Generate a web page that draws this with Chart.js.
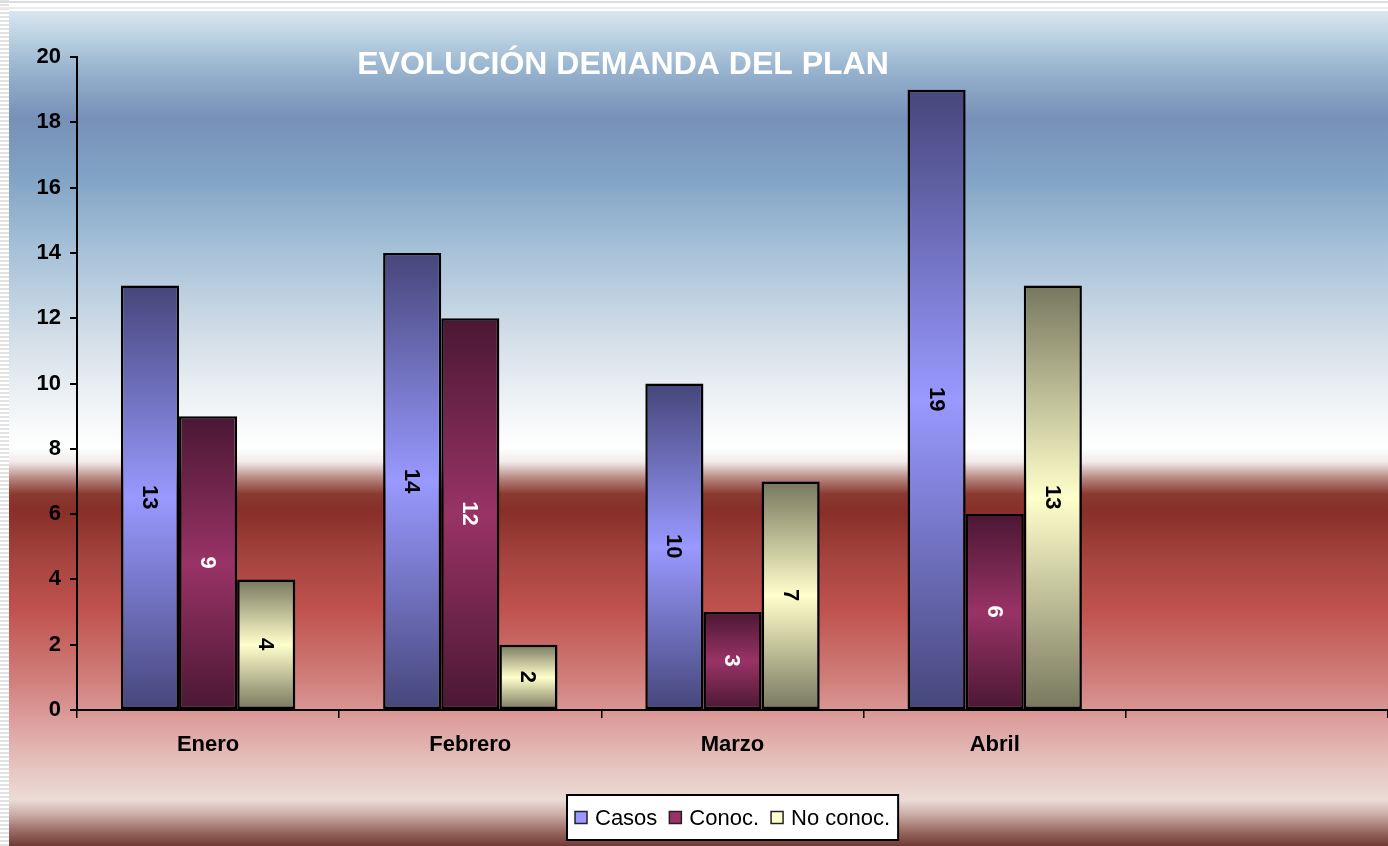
<!DOCTYPE html>
<html lang="es">
  <head>
    <meta charset="UTF-8" />
    <title>Evolución demanda del plan</title>
    <script src="https://cdn.jsdelivr.net/npm/chart.js"></script>
    <style>
      body {
        margin: 0;
        background-color: #ffffff;
        overflow: hidden;
      }
      #planChart {
        display: block;
      }
    </style>
  </head>
  <body>
    <canvas id="planChart" width="1388" height="846"></canvas>
    <script>
      // Datos
      const meses = ["Enero", "Febrero", "Marzo", "Abril", ""];
      const casos = [13, 14, 10, 19, null];
      const conoc = [9, 12, 3, 6, null];
      const noConoc = [4, 2, 7, 13, null];
      const yTicks = [0, 2, 4, 6, 8, 10, 12, 14, 16, 18, 20];

      const FONT = "'Liberation Sans', Arial, sans-serif";

      // degradado oscuro - claro - oscuro dentro de cada barra
      function barGradient(context, dark, light) {
        const chart = context.chart;
        const v = context.raw;
        if (!chart.chartArea || v == null || !chart.scales.y) return light;
        const top = chart.scales.y.getPixelForValue(v);
        const bottom = chart.scales.y.getPixelForValue(0);
        if (!isFinite(top) || !isFinite(bottom) || top === bottom) return light;
        const g = chart.ctx.createLinearGradient(0, top, 0, bottom);
        g.addColorStop(0, dark);
        g.addColorStop(0.5, light);
        g.addColorStop(1, dark);
        return g;
      }

      const series = [
        { label: "Casos", data: casos, dark: "#45467a", light: "#9999ff", swatch: "#9999ff", text: "#000000" },
        { label: "Conoc.", data: conoc, dark: "#4a1733", light: "#993366", swatch: "#993366", text: "#ffffff" },
        { label: "No conoc.", data: noConoc, dark: "#77775e", light: "#ffffcc", swatch: "#ffffcc", text: "#000000" },
      ];

      const backgroundPlugin = {
        id: "fondo",
        beforeDraw(chart) {
          const ctx = chart.ctx;
          const w = chart.width;
          const h = chart.height;
          ctx.save();
          ctx.fillStyle = "#ffffff";
          ctx.fillRect(0, 0, w, h);
          // rayas del borde
          ctx.fillStyle = "#e2e2e2";
          for (let y = 0; y < h; y += 4) ctx.fillRect(0, y, 9, 2);
          ctx.fillStyle = "#dcdcdc";
          ctx.fillRect(0, 1, w, 2);
          ctx.fillStyle = "#ececec";
          ctx.fillRect(0, 7, w, 2);
          // degradado del fondo
          const top = 11;
          const g = ctx.createLinearGradient(0, top, 0, h);
          const stops = [
            [11, "#dae6f0"], [40, "#b8cfe0"], [70, "#97b3ce"], [118, "#7890b8"],
            [175, "#80a3c4"], [250, "#a6c1d8"], [330, "#cfdce7"], [400, "#eef2f5"],
            [448, "#ffffff"], [462, "#f2eaea"], [478, "#b88882"], [494, "#8a3a31"],
            [510, "#872f28"], [560, "#a6443f"], [610, "#c0524e"], [680, "#d07f7b"],
            [720, "#dc9e9c"], [770, "#e7c6c2"], [800, "#ecdcd6"], [815, "#c9aba5"],
            [830, "#9d6f67"], [846, "#6e3b33"],
          ];
          stops.forEach(([y, c]) => g.addColorStop((y - top) / (h - top), c));
          ctx.fillStyle = g;
          ctx.fillRect(9, top, w - 9, h - top);
          ctx.restore();
        },
      };

      const labelPlugin = {
        id: "etiquetas",
        afterDatasetsDraw(chart) {
          const ctx = chart.ctx;
          ctx.save();
          ctx.font = "bold 22px " + FONT;
          ctx.textAlign = "center";
          ctx.textBaseline = "middle";
          chart.data.datasets.forEach((ds, i) => {
            const meta = chart.getDatasetMeta(i);
            meta.data.forEach((bar, j) => {
              const v = ds.data[j];
              if (v == null) return;
              ctx.save();
              ctx.translate(bar.x, (bar.y + bar.base) / 2);
              ctx.rotate(Math.PI / 2);
              ctx.fillStyle = series[i].text;
              ctx.fillText(String(v), 0, 1);
              ctx.restore();
            });
          });
          ctx.restore();
        },
      };

      const titlePlugin = {
        id: "titulo",
        afterDraw(chart) {
          const ctx = chart.ctx;
          ctx.save();
          ctx.font = "bold 32px " + FONT;
          ctx.fillStyle = "#ffffff";
          ctx.textAlign = "center";
          ctx.textBaseline = "alphabetic";
          ctx.fillText("EVOLUCIÓN DEMANDA DEL PLAN", 623, 74);
          ctx.restore();
        },
      };

      const legendPlugin = {
        id: "leyenda",
        afterDraw(chart) {
          const ctx = chart.ctx;
          const area = chart.chartArea;
          ctx.save();
          ctx.font = "22px " + FONT;
          const sq = 12;
          const gapText = 8;
          const gapItem = 12;
          const pad = 8;
          let total = 0;
          series.forEach((s, i) => {
            total += sq + gapText + ctx.measureText(s.label).width;
            if (i < series.length - 1) total += gapItem;
          });
          const boxW = total + pad * 2;
          const boxH = 45;
          const cx = (area.left + area.right) / 2;
          const x0 = Math.round(cx - boxW / 2);
          const y0 = 795;
          ctx.fillStyle = "#ffffff";
          ctx.fillRect(x0, y0, boxW, boxH);
          ctx.strokeStyle = "#000000";
          ctx.lineWidth = 2;
          ctx.strokeRect(x0, y0, boxW, boxH);
          let x = x0 + pad;
          const cy = y0 + boxH / 2;
          ctx.textBaseline = "middle";
          ctx.textAlign = "left";
          series.forEach((s) => {
            ctx.fillStyle = s.swatch;
            ctx.fillRect(x, cy - sq / 2, sq, sq);
            ctx.lineWidth = 1.5;
            ctx.strokeStyle = "#222222";
            ctx.strokeRect(x, cy - sq / 2, sq, sq);
            x += sq + gapText;
            ctx.fillStyle = "#000000";
            ctx.fillText(s.label, x, cy + 1);
            x += ctx.measureText(s.label).width + gapItem;
          });
          ctx.restore();
        },
      };

      const ctx = document.getElementById("planChart").getContext("2d");
      const planChart = new Chart(ctx, {
        type: "bar",
        data: {
          labels: meses,
          datasets: series.map((s) => ({
            label: s.label,
            data: s.data,
            backgroundColor: (c) => barGradient(c, s.dark, s.light),
            borderColor: "#000000",
            borderWidth: 2.5,
            borderSkipped: false,
            categoryPercentage: 0.665,
            barPercentage: 1,
          })),
        },
        options: {
          responsive: false,
          animation: false,
          devicePixelRatio: 1,
          layout: {
            padding: { top: 57, left: 0, right: 0, bottom: 0 },
          },
          plugins: {
            legend: { display: false },
            title: { display: false },
            tooltip: { enabled: false },
          },
          scales: {
            x: {
              afterFit: (scale) => {
                scale.height = 136;
              },
              grid: {
                display: true,
                offset: true,
                drawOnChartArea: false,
                tickLength: 8,
                color: "#000000",
                lineWidth: 1.5,
              },
              border: { color: "#000000", width: 2 },
              ticks: {
                color: "#000000",
                font: { family: FONT, size: 22, weight: "bold" },
                padding: 14,
                maxRotation: 0,
              },
            },
            y: {
              min: 0,
              max: 20,
              afterFit: (scale) => {
                scale.width = 77;
              },
              afterBuildTicks: (scale) => {
                scale.ticks = yTicks.map((v) => ({ value: v }));
              },
              grid: {
                display: true,
                drawOnChartArea: false,
                tickLength: 7,
                color: "#000000",
                lineWidth: 2,
              },
              border: { color: "#000000", width: 2 },
              ticks: {
                color: "#000000",
                font: { family: FONT, size: 22, weight: "bold" },
                padding: 9,
              },
            },
          },
        },
        plugins: [backgroundPlugin, labelPlugin, titlePlugin, legendPlugin],
      });
    </script>
  </body>
</html>
